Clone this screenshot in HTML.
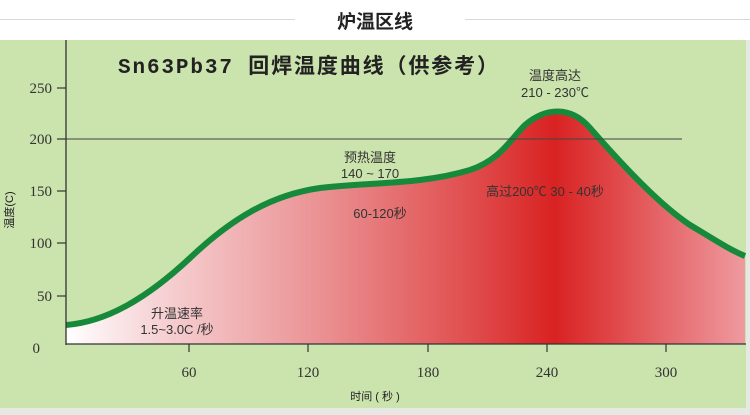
<!DOCTYPE html>
<html><head><meta charset="utf-8"><style>
html,body{margin:0;padding:0;width:750px;height:415px;overflow:hidden;background:#e6e8e4;font-family:"Liberation Sans","Noto Sans CJK SC",sans-serif}
</style></head><body>
<svg width="750" height="415" viewBox="0 0 750 415" xmlns="http://www.w3.org/2000/svg" style="display:block">
<defs>
<linearGradient id="g" x1="66" x2="745" y1="0" y2="0" gradientUnits="userSpaceOnUse">
<stop offset="0" stop-color="#ffffff"/>
<stop offset="0.12" stop-color="#f7d7d9"/>
<stop offset="0.4" stop-color="#e98a8c"/>
<stop offset="0.6" stop-color="#e04c4c"/>
<stop offset="0.72" stop-color="#d92222"/>
<stop offset="0.85" stop-color="#e35a5c"/>
<stop offset="1" stop-color="#ee9aa0"/>
</linearGradient>
</defs>
<rect x="0" y="0" width="750" height="40" fill="#ffffff"/>
<line x1="0" y1="19.5" x2="295" y2="19.5" stroke="#d8d8dc" stroke-width="1"/>
<line x1="465" y1="19.5" x2="750" y2="19.5" stroke="#d8d8dc" stroke-width="1"/>
<text x="375" y="28" text-anchor="middle" font-size="19" font-weight="bold" fill="#222">炉温区线</text>
<rect x="0" y="40" width="746" height="368" fill="#cbe3ad"/>
<path d="M66,325 C105,322 145,300 190,258 C230,220 270,195 320,188 C370,182 420,185 470,170 C500,160 510,140 525,125 C545,108 570,105 590,128 C625,168 660,205 690,225 C715,240 730,250 745,256 L745,344 L66,344 Z" fill="url(#g)"/>
<path d="M66,325 C105,322 145,300 190,258 C230,220 270,195 320,188 C370,182 420,185 470,170 C500,160 510,140 525,125 C545,108 570,105 590,128 C625,168 660,205 690,225 C715,240 730,250 745,256" fill="none" stroke="#168a3a" stroke-width="6"/>
<line x1="66" y1="139" x2="682" y2="139" stroke="#444" stroke-width="1.2" opacity="0.8"/>
<line x1="66" y1="40" x2="66" y2="345" stroke="#333" stroke-width="1.3"/>
<line x1="66" y1="344" x2="746" y2="344" stroke="#333" stroke-width="1.3"/>
<g stroke="#333" stroke-width="1.2">
<line x1="57" y1="88" x2="66" y2="88"/><line x1="57" y1="139" x2="66" y2="139"/><line x1="57" y1="191" x2="66" y2="191"/><line x1="57" y1="243" x2="66" y2="243"/><line x1="57" y1="296" x2="66" y2="296"/>
<line x1="189" y1="344" x2="189" y2="352"/><line x1="308" y1="344" x2="308" y2="352"/><line x1="428" y1="344" x2="428" y2="352"/><line x1="547" y1="344" x2="547" y2="352"/><line x1="666" y1="344" x2="666" y2="352"/>
</g>
<g font-family="Liberation Serif,serif" font-size="15" fill="#333" text-anchor="end">
<text x="52" y="93">250</text><text x="52" y="144">200</text><text x="52" y="196">150</text><text x="52" y="248">100</text><text x="52" y="301">50</text><text x="40" y="353">0</text>
</g>
<g font-family="Liberation Serif,serif" font-size="15" fill="#333" text-anchor="middle">
<text x="189" y="377">60</text><text x="308" y="377">120</text><text x="428" y="377">180</text><text x="547" y="377">240</text><text x="666" y="377">300</text>
</g>
<text x="375" y="400" text-anchor="middle" font-size="11" fill="#222">时间 ( 秒 )</text>
<text x="13" y="210" text-anchor="middle" font-size="11" fill="#222" transform="rotate(-90 13 210)">温度(C)</text>
<text x="118" y="73" font-size="21" font-weight="bold" fill="#222" font-family="Liberation Mono,'Noto Sans CJK SC',monospace" textLength="380" lengthAdjust="spacing">Sn63Pb37 回焊温度曲线（供参考）</text>
<text x="555" y="80" text-anchor="middle" font-size="13" fill="#333">温度高达</text>
<text x="555" y="97" text-anchor="middle" font-size="13" fill="#333">210 - 230℃</text>
<text x="370" y="162" text-anchor="middle" font-size="13" fill="#333">预热温度</text>
<text x="370" y="178" text-anchor="middle" font-size="13" fill="#333">140 ~ 170</text>
<text x="380" y="218" text-anchor="middle" font-size="13" fill="#333">60-120秒</text>
<text x="545" y="196" text-anchor="middle" font-size="13" fill="#333">高过200℃ 30 - 40秒</text>
<text x="177" y="318" text-anchor="middle" font-size="13" fill="#333">升温速率</text>
<text x="177" y="334" text-anchor="middle" font-size="13" fill="#333">1.5~3.0C /秒</text>
</svg>
</body></html>
